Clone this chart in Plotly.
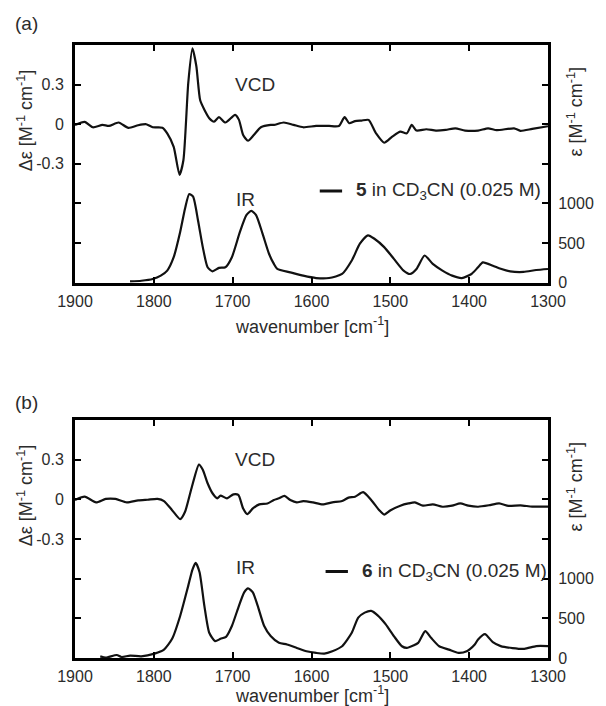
import plotly.graph_objects as go

# ---------------- (a) compound 5 in CD3CN ----------------
vcd5_wn = [1900, 1887.7, 1877.4, 1865.1, 1856.9, 1844.6, 1832.3, 1819.9, 1809.7, 1801.4,
           1789.1, 1783.0, 1774.8, 1767.4, 1762.5, 1756.3, 1751.0, 1746.1, 1741.2, 1735.9,
           1729.7, 1723.6, 1717.4, 1709.2, 1696.9, 1692.0, 1686.7, 1680.5, 1673.2, 1664.2,
           1651.8, 1647.5, 1635.2, 1622.8, 1610.5, 1594.1, 1577.7, 1565.3, 1558.0, 1552.2,
           1544.8, 1536.6, 1527.6, 1518.1, 1507.8, 1497.6, 1487.3, 1479.1, 1472.9, 1466.8,
           1454.4, 1442.1, 1429.8, 1417.5, 1405.2, 1388.7, 1376, 1365, 1343, 1335, 1320, 1300]
vcd5 = [-0.005, 0.018, -0.023, -0.005, -0.013, 0.013, -0.028, -0.008, 0.0, -0.023,
        -0.026, -0.069, -0.171, -0.383, -0.273, 0.314, 0.574, 0.441, 0.181, 0.110,
        0.046, 0.020, 0.054, 0.013, 0.071, 0.033, -0.082, -0.125, -0.082, -0.023,
        -0.005, -0.005, 0.013, -0.005, -0.023, -0.013, -0.013, -0.013, 0.054, 0.008,
        0.023, 0.028, 0.033, -0.069, -0.140, -0.094, -0.056, -0.069, -0.005, -0.048,
        -0.038, -0.048, -0.043, -0.031, -0.048, -0.048, -0.031, -0.045, -0.031, -0.050, -0.035, -0.015]

ir5_wn = [1830.2, 1815.8, 1801.4, 1791.2, 1783.0, 1774.8, 1766.6, 1760.4, 1755.1, 1750.2,
          1744.0, 1737.9, 1731.8, 1725.6, 1717.4, 1709.2, 1701.0, 1690.8, 1682.6, 1676.4,
          1670.3, 1662.1, 1653.9, 1647.7, 1643.4, 1626.9, 1610.5, 1594.1, 1577.7, 1561.2,
          1548.9, 1538.6, 1528.4, 1520.2, 1507.8, 1495.5, 1483.2, 1475.0, 1466.8, 1456.5,
          1446.2, 1433.9, 1421.6, 1409.3, 1397.0, 1388.7, 1382.6, 1370, 1360, 1348, 1331, 1315, 1300]
ir5 = [17, 25, 47, 89, 153, 322, 640, 937, 1119, 1085,
       789, 449, 195, 144, 187, 195, 322, 640, 852, 907,
       852, 619, 365, 237, 174, 131, 89, 59, 59, 110,
       280, 492, 598, 555, 449, 301, 153, 110, 174, 343,
       237, 153, 89, 59, 110, 195, 257, 215, 175, 143, 136, 160, 173]

# ---------------- (b) compound 6 in CD3CN ----------------
vcd6_wn = [1900, 1887.7, 1873.3, 1861.0, 1848.7, 1834.3, 1819.9, 1807.6, 1795.3, 1787.1,
           1776.8, 1766.6, 1760.4, 1752.2, 1742.8, 1737.9, 1731.8, 1725.6, 1719.5, 1715.4,
           1707.2, 1699.0, 1692.8, 1686.7, 1681.4, 1674.4, 1666.2, 1655.9, 1647.7, 1641.3,
           1634.3, 1626.9, 1618.7, 1610.5, 1598.2, 1585.9, 1573.6, 1561.2, 1553.0, 1544.8,
           1534.5, 1524.3, 1514.0, 1507.8, 1499.6, 1487.3, 1477.0, 1468.8, 1458.6, 1446.2,
           1433.9, 1421.6, 1411.3, 1401.1, 1388.7, 1375, 1362, 1350, 1335, 1320, 1300]
vcd6 = [-0.005, 0.020, -0.023, 0.003, 0.003, -0.023, -0.008, -0.003, 0.003, -0.013,
        -0.082, -0.150, -0.094, 0.084, 0.263, 0.224, 0.122, 0.046, 0.008, 0.028,
        0.008, 0.038, 0.033, -0.069, -0.112, -0.069, -0.038, -0.031, -0.005, 0.008,
        0.026, -0.005, -0.023, -0.013, -0.023, -0.038, -0.023, -0.013, 0.013, 0.020,
        0.054, -0.005, -0.082, -0.115, -0.082, -0.048, -0.031, -0.023, -0.048, -0.038,
        -0.056, -0.048, -0.031, -0.048, -0.056, -0.045, -0.030, -0.050, -0.045, -0.055, -0.055]

ir6_wn = [1868, 1861, 1847, 1841, 1830, 1816, 1799, 1787.1, 1776.8, 1766.6,
          1756.3, 1751.0, 1746.9, 1742.0, 1735.9, 1729.7, 1722.3, 1715.4, 1708.4, 1701.0,
          1692.8, 1685.4, 1680.5, 1674.4, 1668.2, 1660.0, 1651.8, 1641.3, 1631.1, 1618.7,
          1606.4, 1594.1, 1583.8, 1573.6, 1561.2, 1548.9, 1540.7, 1532.5, 1524.3, 1516.1,
          1505.8, 1495.5, 1485.3, 1479.1, 1470.9, 1464.7, 1455.7, 1448.3, 1438.0, 1425.7,
          1413.4, 1403.1, 1392.9, 1388.7, 1380, 1370, 1360, 1345, 1330, 1315, 1300]
ir6 = [21, 4, 38, 13, 30, 21, 55, 106, 242, 530,
       912, 1115, 1200, 1081, 657, 318, 212, 242, 267, 403,
       636, 827, 878, 827, 657, 403, 276, 191, 170, 127,
       85, 64, 55, 85, 148, 318, 509, 572, 594, 538,
       424, 276, 148, 127, 157, 191, 339, 254, 148, 106,
       64, 85, 170, 233, 300, 200, 150, 125, 115, 150, 150]

x_ticks = [1900, 1800, 1700, 1600, 1500, 1400, 1300]
vcd_ticks = [0.3, 0, -0.3, -0.6, -0.9]
vcd_ticktext = ["0.3", "0", "-0.3", "", ""]
ir_ticks = [0, 500, 1000, 1500, 2000, 2500]
ir_ticktext = ["0", "500", "1000", "", "", ""]

W, H = 606, 706
ML, MR, MT, MB = 75, 44, 45, 48
FONT = "Liberation Sans, Arial, Helvetica, sans-serif"
INK = "#111111"
TXT = "#2b2b2b"


def fx(p):
    """pixel column -> paper x"""
    return (p - ML) / (W - ML - MR)


def fy(p):
    """pixel row -> paper y"""
    return (H - MB - p) / (H - MT - MB)


line = dict(color=INK, width=2.2, shape="spline", smoothing=0.6)

fig = go.Figure()
fig.add_trace(go.Scatter(x=vcd5_wn, y=vcd5, mode="lines", line=line, xaxis="x", yaxis="y"))
fig.add_trace(go.Scatter(x=ir5_wn, y=ir5, mode="lines", line=line, xaxis="x", yaxis="y2"))
fig.add_trace(go.Scatter(x=vcd6_wn, y=vcd6, mode="lines", line=line, xaxis="x2", yaxis="y3"))
fig.add_trace(go.Scatter(x=ir6_wn, y=ir6, mode="lines", line=line, xaxis="x2", yaxis="y4"))

common = dict(showline=True, linecolor="black", linewidth=3, ticks="inside", ticklen=6,
              tickwidth=1.5, tickcolor="black", showgrid=False, zeroline=False,
              tickfont=dict(family=FONT, size=16, color=TXT))

xcommon = dict(common, range=[1900, 1300], tickvals=x_ticks, mirror="ticks",
               ticklabelstandoff=2)
ylcommon = dict(common, range=[-1.2, 0.6], tickvals=vcd_ticks, ticktext=vcd_ticktext,
                mirror=True, ticklabelstandoff=5)
yrcommon = dict(common, range=[0, 3000], tickvals=ir_ticks, ticktext=ir_ticktext,
                side="right", ticklabelstandoff=4)

dom_a = [fy(282.7), 1.0]
dom_b = [0.0, fy(420)]

fig.update_layout(
    width=W, height=H,
    margin=dict(l=ML, r=MR, t=MT, b=MB),
    paper_bgcolor="white", plot_bgcolor="white",
    showlegend=False,
    font=dict(family=FONT, color=TXT),
    xaxis=dict(xcommon, domain=[0, 1], anchor="y"),
    yaxis=dict(ylcommon, domain=dom_a, anchor="x"),
    yaxis2=dict(yrcommon, overlaying="y", anchor="x"),
    xaxis2=dict(xcommon, domain=[0, 1], anchor="y3"),
    yaxis3=dict(ylcommon, domain=dom_b, anchor="x2"),
    yaxis4=dict(yrcommon, overlaying="y3", anchor="x2"),
)

ann = []


def text(x, y, s, size, xanchor="center", angle=0):
    ann.append(dict(xref="paper", yref="paper", x=fx(x), y=fy(y), text=s,
                    showarrow=False, xanchor=xanchor, yanchor="middle",
                    textangle=angle, font=dict(family=FONT, size=size, color=TXT)))


y_title = "\u0394\u03b5 [M<sup>-1</sup> cm<sup>-1</sup>]"
r_title = "\u03b5 [M<sup>-1</sup> cm<sup>-1</sup>]"
x_title = "wavenumber [cm<sup>-1</sup>]"

panels = [
    # (panel label, label row, zero row, legend key x, legend row, compound, x-title row, IR row)
    ("(a)", 23, 124.3, 327, 191, "5", 326, 199),
    ("(b)", 402, 499.3, 333, 571.5, "6", 694, 567.5),
]
for label, label_row, zero_row, legend_x, legend_y, cmpd, title_row, ir_row in panels:
    text(11, label_row, label, 19, xanchor="left")
    text(23.5, zero_row - 4, y_title, 18, angle=-90)
    text(590, zero_row - 12, r_title, 18, angle=-90)
    text(318.5, title_row, x_title, 18)
    text(238, zero_row - 40, "VCD", 19, xanchor="left")
    text(239, ir_row, "IR", 19, xanchor="left")
    text(legend_x + 35, legend_y, "<b>%s</b> in CD<sub>3</sub>CN (0.025 M)" % cmpd, 19,
         xanchor="left")
    fig.add_shape(type="line", xref="paper", yref="paper",
                  x0=fx(legend_x), x1=fx(legend_x + 23), y0=fy(legend_y), y1=fy(legend_y),
                  line=dict(color=INK, width=3))

fig.update_layout(annotations=ann)
fig.write_html("out.html")
